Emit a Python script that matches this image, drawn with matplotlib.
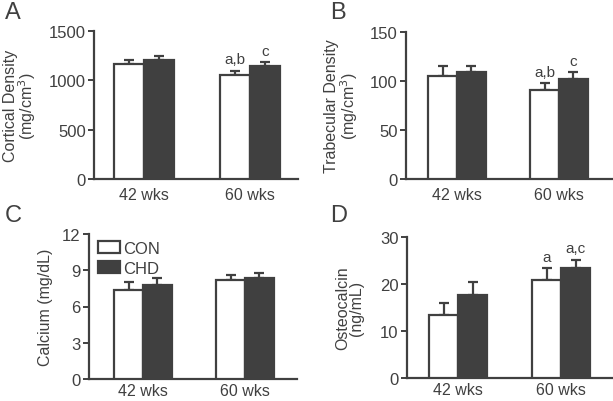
import matplotlib
matplotlib.use('Agg')
import matplotlib.pyplot as plt
import matplotlib.patches as mpatches
import numpy as np

plt.rcParams['font.family'] = ['Liberation Sans', 'DejaVu Sans']

groups = ['42 wks', '60 wks']

cortical_con = [1166, 1057]
cortical_con_err = [43, 41]
cortical_chd = [1209, 1142]
cortical_chd_err = [41, 47]

trab_con = [105, 91]
trab_con_err = [10, 6.5]
trab_chd = [109, 102]
trab_chd_err = [6, 7.5]

calcium_con = [7.35, 8.19]
calcium_con_err = [0.7, 0.42]
calcium_chd = [7.77, 8.33]
calcium_chd_err = [0.56, 0.42]

osteo_con = [13.4, 20.9]
osteo_con_err = [2.6, 2.5]
osteo_chd = [17.7, 23.5]
osteo_chd_err = [2.8, 1.7]

gray = '#404040'
W = 613.0
H = 402.0

fig = plt.figure(figsize=(6.13, 4.02), dpi=100)


def panel(rect, con, con_err, chd, chd_err, ymax, yticks, ylabel, labx, xlim,
          xpad=5, notes_con=None, notes_chd=None):
    l, t, r, b = rect
    ax = fig.add_axes([l / W, (H - b) / H, (r - l) / W, (b - t) / H])
    x = np.arange(len(groups))
    w = 0.28
    ax.bar(x - w / 2, con, w, color='white', edgecolor=gray, linewidth=1.6, zorder=3)
    ax.bar(x + w / 2, chd, w, color=gray, edgecolor=gray, linewidth=1.6, zorder=3)
    ax.errorbar(x - w / 2, con, yerr=[np.zeros(len(con)), con_err], fmt='none',
                ecolor=gray, elinewidth=1.6, capsize=3.7, capthick=1.6, zorder=2)
    ax.errorbar(x + w / 2, chd, yerr=[np.zeros(len(chd)), chd_err], fmt='none',
                ecolor=gray, elinewidth=1.6, capsize=3.7, capthick=1.6, zorder=2)
    if notes_con:
        for i, s in enumerate(notes_con):
            if s:
                ax.annotate(s, (x[i] - w / 2, con[i] + con_err[i]), xytext=(0, 3),
                            textcoords='offset points', ha='center', va='bottom',
                            fontsize=11, color=gray)
    if notes_chd:
        for i, s in enumerate(notes_chd):
            if s:
                ax.annotate(s, (x[i] + w / 2, chd[i] + chd_err[i]), xytext=(0, 3),
                            textcoords='offset points', ha='center', va='bottom',
                            fontsize=11, color=gray)
    ax.set_ylim(0, ymax)
    ax.set_xlim(*xlim)
    ax.set_yticks(yticks)
    ax.set_xticks(x)
    ax.set_xticklabels(groups)
    for sp in ['top', 'right']:
        ax.spines[sp].set_visible(False)
    for sp in ['left', 'bottom']:
        ax.spines[sp].set_color(gray)
        ax.spines[sp].set_linewidth(1.6)
    ax.tick_params(axis='y', length=4, width=1.4, color=gray, labelcolor=gray,
                   labelsize=12, pad=2)
    ax.tick_params(axis='x', length=0, labelcolor=gray, labelsize=11.5, pad=xpad)
    ax.set_ylabel(ylabel, fontsize=11.5, color=gray, linespacing=0.92)
    ax.yaxis.set_label_coords(labx, 0.5)
    return ax


axA = panel((94, 32, 298, 180), cortical_con, cortical_con_err, cortical_chd,
            cortical_chd_err, 1500, [0, 500, 1000, 1500],
            'Cortical Density\n(mg/cm$^3$)', -0.275, (-0.47, 1.45), xpad=6,
            notes_con=['', 'a,b'], notes_chd=['', 'c'])
axB = panel((406, 33, 612, 180), trab_con, trab_con_err, trab_chd,
            trab_chd_err, 150, [0, 50, 100, 150],
            'Trabecular Density\n(mg/cm$^3$)', -0.225, (-0.5, 1.52), xpad=6,
            notes_con=['', 'a,b'], notes_chd=['', 'c'])
axC = panel((89, 235, 297, 380), calcium_con, calcium_con_err, calcium_chd,
            calcium_chd_err, 12, [0, 3, 6, 9, 12],
            'Calcium (mg/dL)', -0.175, (-0.53, 1.51), xpad=3)
axD = panel((407, 238, 612, 379), osteo_con, osteo_con_err, osteo_chd,
            osteo_chd_err, 30, [0, 10, 20, 30],
            'Osteocalcin\n(ng/mL)', -0.21, (-0.495, 1.49), xpad=3,
            notes_con=['', 'a'], notes_chd=['', 'a,c'])

h_con = mpatches.Patch(facecolor='white', edgecolor=gray, linewidth=1.6, label='CON')
h_chd = mpatches.Patch(facecolor=gray, edgecolor=gray, linewidth=1.6, label='CHD')
leg = axC.legend(handles=[h_con, h_chd], loc='upper left', bbox_to_anchor=(0.045, 0.955),
                 frameon=False, fontsize=12, handlelength=1.3, handleheight=0.75,
                 handletextpad=0.2, labelspacing=0.3, borderaxespad=0, borderpad=0)
for txt in leg.get_texts():
    txt.set_color(gray)

for s, xx, yy in [('A', 5, 2), ('B', 330, 2), ('C', 5, 205), ('D', 330, 205)]:
    fig.text(xx / W, 1 - yy / H, s, fontsize=17, color=gray, va='top', ha='left')

fig.savefig('out.png', dpi=100)
